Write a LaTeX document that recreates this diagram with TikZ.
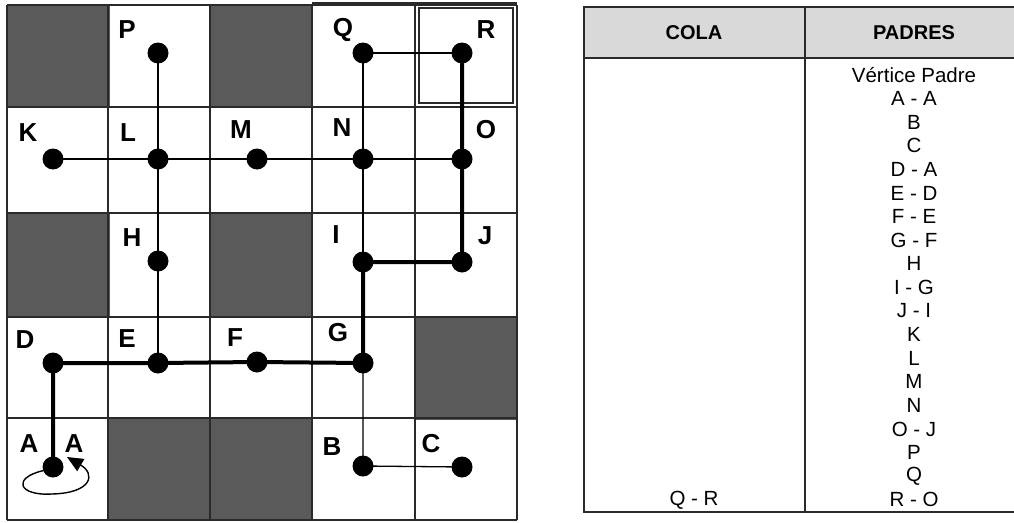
\documentclass[tikz,border=0pt]{standalone}
\usepackage{fontspec}
\setmainfont{Liberation Sans}
\usetikzlibrary{arrows.meta}
\pgfdeclarelayer{gridlayer}
\pgfdeclarelayer{edgelayer}
\pgfsetlayers{gridlayer,edgelayer,main}
\definecolor{darkcell}{HTML}{5A5A5A}
\definecolor{gridline}{HTML}{2A2A2A}
\definecolor{headgray}{HTML}{D9D9D9}
\tikzset{
  vdot/.style={circle,fill=black,inner sep=0pt,minimum size=21pt},
  vlabel/.style={font=\fontsize{26}{26}\selectfont\bfseries,inner sep=0pt},
  thinedge/.style={line width=1.3pt,black},
  thickedge/.style={line width=4pt,black},
  cellline/.style={line width=1.6pt,draw=gridline},
  tabtext/.style={font=\fontsize{20.5}{20.5}\selectfont,inner sep=0pt},
  tabhead/.style={font=\fontsize{20}{20}\selectfont\bfseries,inner sep=0pt},
}
\begin{document}
\begin{tikzpicture}[x=1pt,y=-1pt]
\useasboundingbox (0,0) rectangle (1014,522);
\begin{pgfonlayer}{gridlayer}
  % dark cells
  \foreach \xa/\ya in {7/5, 210/5, 7/213, 210/213, 415/317, 108/418, 210/418}
    \fill[darkcell] (\xa,\ya) rectangle ++(103,103);
  % grid lines
  \foreach \xx in {7,108,210,312,415,517}
    \draw[cellline] (\xx,5) -- (\xx,520);
  \foreach \yy in {5,107,213,317,418,520}
    \draw[cellline] (7,\yy) -- (517,\yy);
  \draw[cellline] (312,3) -- (517,3);
  \draw[cellline] (419,8) rectangle (513,103);
  % table
  \fill[headgray] (584,7) rectangle (1024,58);
  \draw[line width=1.5pt,draw=gridline] (584,7) rectangle (1024,512);
  \draw[line width=1.5pt,draw=gridline] (584,58) -- (1024,58);
  \draw[line width=1.5pt,draw=gridline] (805,7) -- (805,512);
\end{pgfonlayer}
% vertices
\node[vdot] (p) at (158,53) {};
\node[vdot] (q) at (363,53) {};
\node[vdot] (r) at (462,53) {};
\node[vdot] (k) at (53,159) {};
\node[vdot] (l) at (158,159) {};
\node[vdot] (m) at (257,159) {};
\node[vdot] (n) at (363,159) {};
\node[vdot] (o) at (462,159) {};
\node[vdot] (h) at (158,261) {};
\node[vdot] (i) at (363,262) {};
\node[vdot] (j) at (462,262) {};
\node[vdot] (d) at (53,363) {};
\node[vdot] (e) at (158,363) {};
\node[vdot] (f) at (257,362) {};
\node[vdot] (g) at (363,363) {};
\node[vdot] (a) at (53,467) {};
\node[vdot] (b) at (363,466) {};
\node[vdot] (c) at (462,467) {};
% labels
\node[vlabel] (lp) at (127,30) {P};
\node[vlabel] (lq) at (343,30) {Q};
\node[vlabel] (lr) at (486,30) {R};
\node[vlabel] (lk) at (28,133) {K};
\node[vlabel] (ll) at (128,133) {L};
\node[vlabel] (lm) at (241,130) {M};
\node[vlabel] (ln) at (342,128) {N};
\node[vlabel] (lo) at (486,130) {O};
\node[vlabel] (lh) at (132,238) {H};
\node[vlabel] (li) at (336,235) {I};
\node[vlabel] (lj) at (485,236) {J};
\node[vlabel] (ld) at (25,340) {D};
\node[vlabel] (le) at (127,339) {E};
\node[vlabel] (lf) at (235,338) {F};
\node[vlabel] (lg) at (338,333) {G};
\node[vlabel] (la) at (29,444) {A};
\node[vlabel] (la2) at (74,444) {A};
\node[vlabel] (lb) at (332,447) {B};
\node[vlabel] (lc) at (431,444) {C};
\coordinate (loopend) at (67,457);
\begin{pgfonlayer}{edgelayer}
  \draw[thinedge] (p.center) -- (l.center) -- (h.center) -- (e.center);
  \draw[thinedge] (k.center) -- (l.center) -- (m.center) -- (n.center) -- (o.center);
  \draw[thinedge] (q.center) -- (n.center) -- (i.center);
  \draw[thinedge] (g.center) -- (b.center) -- (c.center);
  \draw[thinedge] (q.center) -- (r.center);
  \draw[thickedge,line join=miter] (a.center) -- (d.center) -- (e.center) -- (f.center) -- (g.center) -- (i.center) -- (j.center) -- (o.center) -- (r.center);
  \draw[line width=1.4pt,-{Triangle[length=16pt,width=14pt]}] (a.200) .. controls (12,478) and (18,496) .. (52,494) .. controls (92,493) and (96,474) .. (loopend);
\end{pgfonlayer}
% table texts
\node[tabhead] (hcola) at (694,33) {COLA};
\node[tabhead] (hpadres) at (914,33) {PADRES};
\node[tabtext] (qr) at (694,500) {Q - R};
\foreach \t [count=\ii from 0] in {V\'ertice Padre, A - A, B, C, D - A, E - D, F - E, G - F, H, I - G, J - I, K, L, M, N, O - J, P, Q, R - O}
  \node[tabtext] (row\ii) at (914,{75+\ii*23.6}) {\t};
\end{tikzpicture}
\end{document}
